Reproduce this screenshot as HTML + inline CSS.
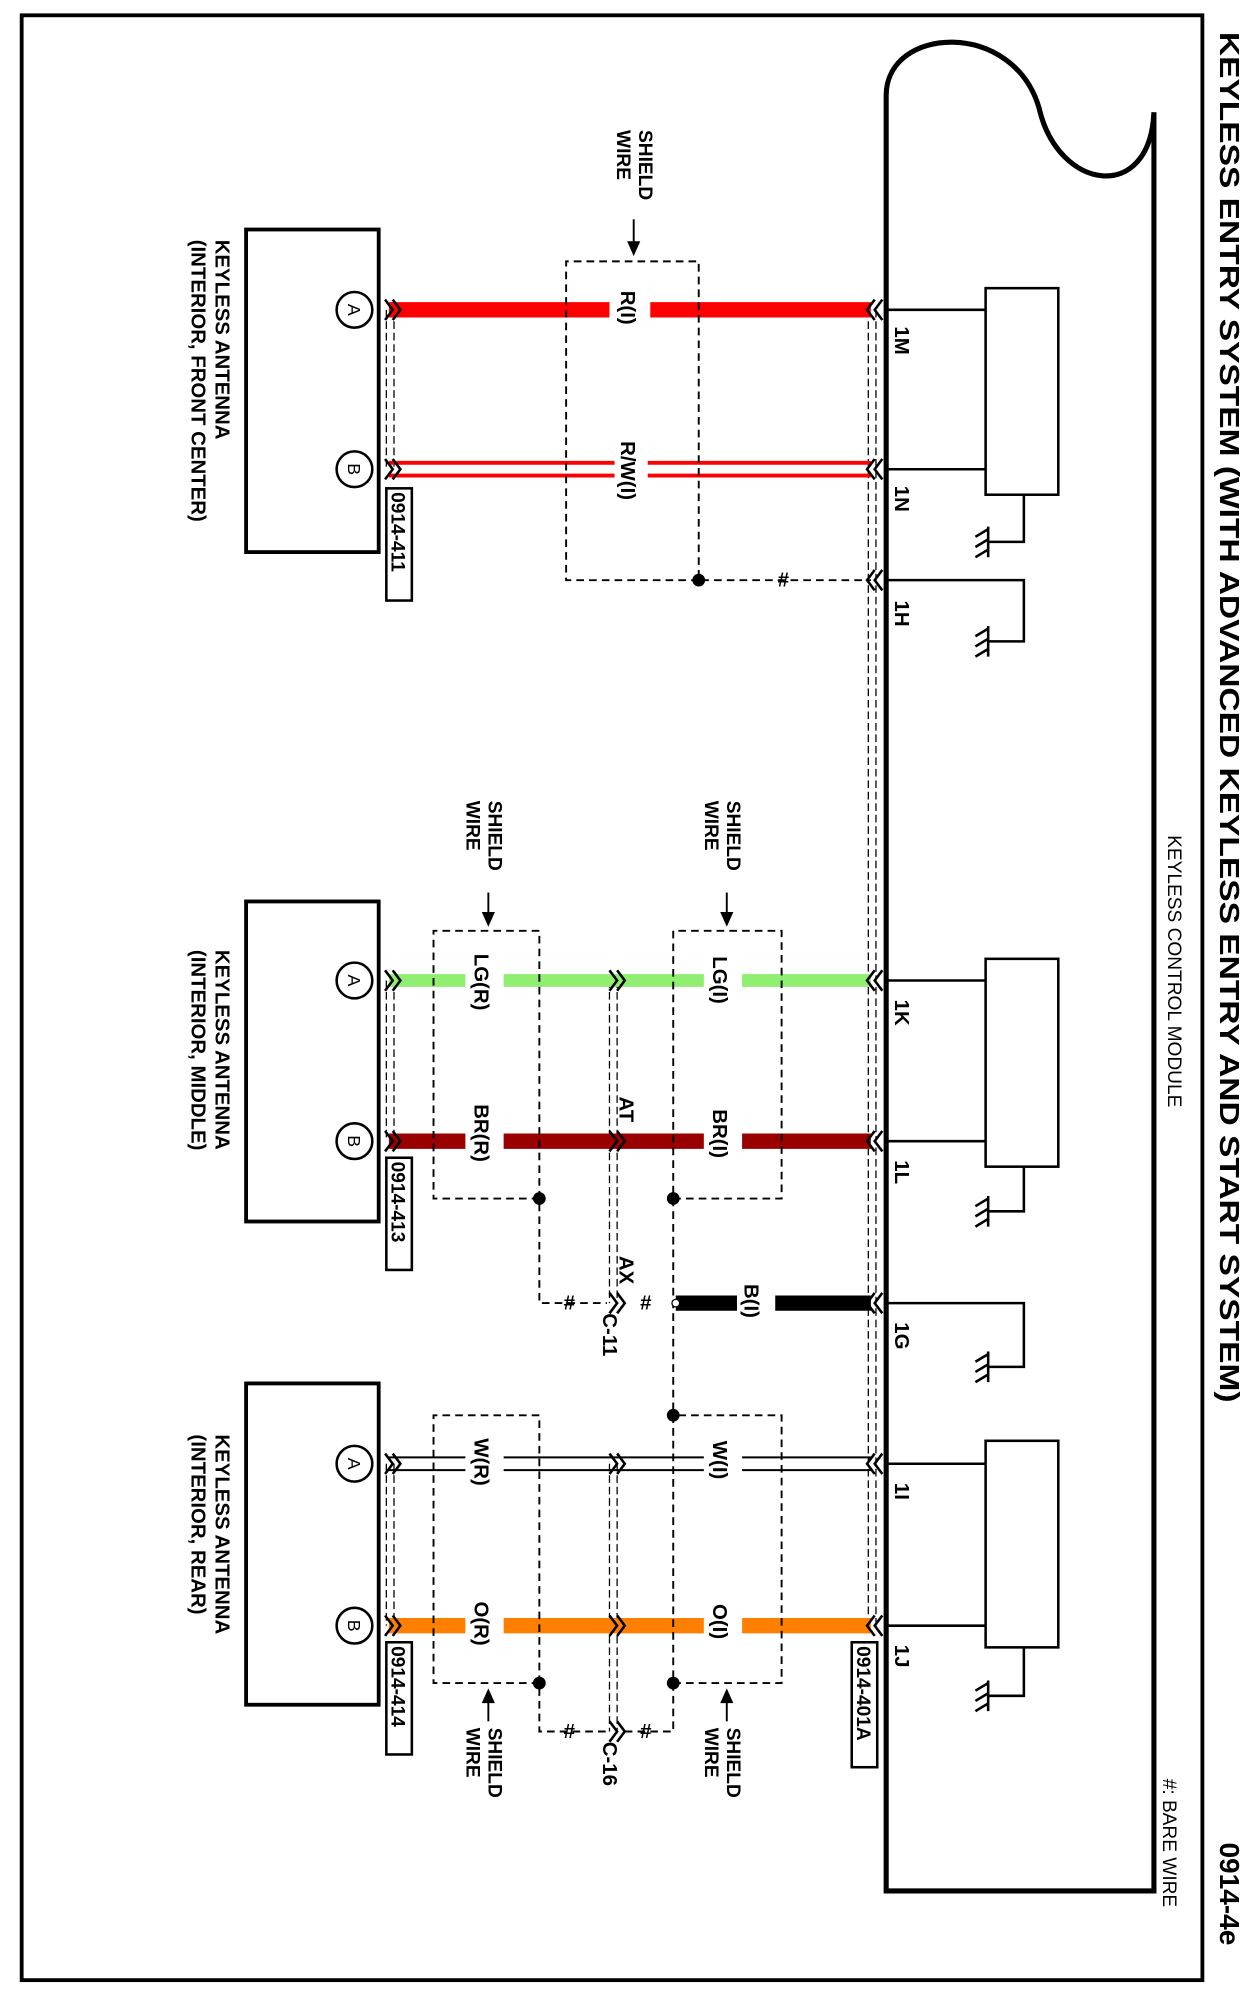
<!DOCTYPE html>
<html><head><meta charset="utf-8"><style>
html,body{margin:0;padding:0;background:#fff}
svg{display:block}
text{font-family:"Liberation Sans",Arial,sans-serif;fill:#000}
.b{font-weight:bold}
</style></head><body>
<svg width="1253" height="1998" viewBox="0 0 982.7 1567" preserveAspectRatio="none" xmlns="http://www.w3.org/2000/svg">
<rect x="17" y="12" width="926" height="1541" fill="none" stroke="#000" stroke-width="3"/>
<text transform="translate(957,25) rotate(90)" font-size="22" font-weight="600" textLength="1075" lengthAdjust="spacingAndGlyphs">KEYLESS ENTRY SYSTEM (WITH ADVANCED KEYLESS ENTRY AND START SYSTEM)</text>
<text transform="translate(957,1445) rotate(90)" font-size="22" class="b">0914-4e</text>
<text transform="translate(912,1395) rotate(90)" font-size="15">#: BARE WIRE</text>
<text transform="translate(916,655) rotate(90)" font-size="15">KEYLESS CONTROL MODULE</text>

<path d="M695,1483 V75 C695,20 795,15 815,85 C830,150 902,160 905,88 V1483 Z" fill="none" stroke="#000" stroke-width="4"/>
<g fill="none" stroke="#000" stroke-width="2">
<rect x="773" y="226" width="57" height="162"/>
<rect x="773" y="752" width="57" height="163"/>
<rect x="773" y="1130" width="57" height="162"/>
<path d="M695,243H773 M695,368H773 M803,388V425H775 M695,455H803V503H775"/>
<path d="M695,769H773 M695,895H773 M803,915V950H775 M695,1022H803V1072H775"/>
<path d="M695,1148H773 M695,1275H773 M803,1292V1330H775"/>
</g>
<g fill="none" stroke="#000" stroke-width="2">
<path d="M775,413V437 M775,415L765,421 M775,423L765,429 M775,431L765,437"/>
<path d="M775,491V515 M775,493L765,499 M775,501L765,507 M775,509L765,515"/>
<path d="M775,938V962 M775,940L765,946 M775,948L765,954 M775,956L765,962"/>
<path d="M775,1060V1084 M775,1062L765,1068 M775,1070L765,1076 M775,1078L765,1084"/>
<path d="M775,1318V1342 M775,1320L765,1326 M775,1328L765,1334 M775,1336L765,1342"/>
</g>
<g font-size="16" class="b">
<text transform="translate(702,256) rotate(90)">1M</text>
<text transform="translate(702,381) rotate(90)">1N</text>
<text transform="translate(702,471) rotate(90)">1H</text>
<text transform="translate(702,784) rotate(90)">1K</text>
<text transform="translate(702,910) rotate(90)">1L</text>
<text transform="translate(702,1037) rotate(90)">1G</text>
<text transform="translate(702,1163) rotate(90)">1I</text>
<text transform="translate(702,1290) rotate(90)">1J</text>
</g>

<g stroke="#000" stroke-width="1" stroke-dasharray="6,3" fill="none">
<path d="M681,243V1275 M687,243V1275"/>
<path d="M303,243V368 M309,243V368"/>
<path d="M303,769V895 M309,769V895"/>
<path d="M303,1148V1275 M309,1148V1275"/>
<path d="M478,769V1022 M484,769V1022"/>
<path d="M478,1148V1358 M484,1148V1358"/>
</g>

<g fill="none">
<path d="M305,243H478 M510,243H683" stroke="#f00" stroke-width="12"/>
<path d="M305,363H482 M508,363H683 M305,373H482 M508,373H683" stroke="#f00" stroke-width="3"/>
<path d="M305,769H365 M395,769H552 M582,769H683" stroke="#90ee70" stroke-width="10"/>
<path d="M305,895H365 M395,895H552 M582,895H683" stroke="#990000" stroke-width="12"/>
<path d="M530,1022H578 M608,1022H683" stroke="#000" stroke-width="12"/>
<path d="M305,1143H365 M395,1143H552 M582,1143H683 M305,1153H365 M395,1153H552 M582,1153H683" stroke="#000" stroke-width="1.5"/>
<path d="M305,1275H365 M395,1275H552 M582,1275H683" stroke="#ff8000" stroke-width="12"/>
</g>
<g font-size="16" font-weight="600">
<text transform="translate(487,228) rotate(90)">R(I)</text>
<text transform="translate(487,346) rotate(90)">R/W(I)</text>
<text transform="translate(559,750) rotate(90)">LG(I)</text>
<text transform="translate(372,748) rotate(90)">LG(R)</text>
<text transform="translate(559,870) rotate(90)">BR(I)</text>
<text transform="translate(372,866) rotate(90)">BR(R)</text>
<text transform="translate(486,860) rotate(90)">AT</text>
<text transform="translate(486,985) rotate(90)">AX</text>
<text transform="translate(584,1007) rotate(90)">B(I)</text>
<text transform="translate(559,1130) rotate(90)">W(I)</text>
<text transform="translate(372,1128) rotate(90)">W(R)</text>
<text transform="translate(559,1258) rotate(90)">O(I)</text>
<text transform="translate(372,1256) rotate(90)">O(R)</text>
<text transform="translate(473,1030) rotate(90)">C-11</text>
<text transform="translate(473,1366) rotate(90)">C-16</text>
<text x="610" y="460">#</text>
<text x="502" y="1027">#</text>
<text x="442" y="1027">#</text>
<text x="502" y="1363">#</text>
<text x="442" y="1363">#</text>
</g>

<g fill="none" stroke="#000" stroke-width="2">
<path id="cl" d="M686,235L680,243L686,251 M692,235L686,243L692,251"/>
<use href="#cl" y="125"/><use href="#cl" y="212"/><use href="#cl" y="526"/><use href="#cl" y="652"/><use href="#cl" y="779"/><use href="#cl" y="905"/><use href="#cl" y="1032"/>
<path id="cr" d="M302,235L308,243L302,251 M308,235L314,243L308,251"/>
<use href="#cr" y="125"/><use href="#cr" y="526"/><use href="#cr" y="652"/><use href="#cr" y="905"/><use href="#cr" y="1032"/>
<use href="#cr" x="176" y="526"/><use href="#cr" x="176" y="652"/><use href="#cr" x="176" y="779"/>
<use href="#cr" x="176" y="905"/><use href="#cr" x="176" y="1032"/><use href="#cr" x="176" y="1115"/>
</g>

<g fill="none" stroke="#000" stroke-width="1.5" stroke-dasharray="6,4">
<path d="M548,455H444V205H548V455H683"/>
<path d="M528,940H613V730H528V1320H613V1110H528"/>
<path d="M423,940H340V730H423V1022H476"/>
<path d="M423,1320H340V1110H423V1358H476"/>
<path d="M528,1320V1358H490"/>
</g>
<g fill="#000">
<circle cx="548" cy="455" r="5"/><circle cx="528" cy="940" r="5"/><circle cx="423" cy="940" r="5"/>
<circle cx="528" cy="1110" r="5"/><circle cx="528" cy="1320" r="5"/><circle cx="423" cy="1320" r="5"/>
</g>
<circle cx="530" cy="1022" r="3" fill="#fff" stroke="#000"/>
<g font-size="15" font-weight="600">
<text transform="translate(501,102) rotate(90)">SHIELD</text>
<text transform="translate(484,102) rotate(90)">WIRE</text>
<text transform="translate(570,628) rotate(90)">SHIELD</text>
<text transform="translate(553,628) rotate(90)">WIRE</text>
<text transform="translate(383,628) rotate(90)">SHIELD</text>
<text transform="translate(366,628) rotate(90)">WIRE</text>
<text transform="translate(570,1355) rotate(90)">SHIELD</text>
<text transform="translate(553,1355) rotate(90)">WIRE</text>
<text transform="translate(383,1355) rotate(90)">SHIELD</text>
<text transform="translate(366,1355) rotate(90)">WIRE</text>
</g>
<g stroke="#000" stroke-width="1.5" fill="#000">
<path d="M497,172V192"/><path d="M493,190L497,199L501,190Z"/>
<path d="M570,700V718"/><path d="M566,716L570,725L574,716Z"/>
<path d="M383,700V718"/><path d="M379,716L383,725L387,716Z"/>
<path d="M570,1332V1350"/><path d="M566,1335L570,1326L574,1335Z"/>
<path d="M383,1332V1350"/><path d="M379,1335L383,1326L387,1335Z"/>
</g>

<g fill="none" stroke="#000" stroke-width="3">
<rect x="193" y="180" width="104" height="253"/>
<rect x="193" y="707" width="104" height="251"/>
<rect x="193" y="1085" width="104" height="252"/>
</g>
<g fill="#fff" stroke="#000" stroke-width="2">
<circle cx="278" cy="243" r="14"/><circle cx="278" cy="368" r="14"/>
<circle cx="278" cy="769" r="14"/><circle cx="278" cy="895" r="14"/>
<circle cx="278" cy="1148" r="14"/><circle cx="278" cy="1275" r="14"/>
</g>
<g font-size="14" text-anchor="middle">
<text transform="translate(273,243) rotate(90)">A</text><text transform="translate(273,368) rotate(90)">B</text>
<text transform="translate(273,769) rotate(90)">A</text><text transform="translate(273,895) rotate(90)">B</text>
<text transform="translate(273,1148) rotate(90)">A</text><text transform="translate(273,1275) rotate(90)">B</text>
</g>
<g font-size="16" font-weight="600">
<text transform="translate(169,188) rotate(90)">KEYLESS ANTENNA</text>
<text transform="translate(150,188) rotate(90)">(INTERIOR, FRONT CENTER)</text>
<text transform="translate(169,745) rotate(90)">KEYLESS ANTENNA</text>
<text transform="translate(150,745) rotate(90)">(INTERIOR, MIDDLE)</text>
<text transform="translate(169,1125) rotate(90)">KEYLESS ANTENNA</text>
<text transform="translate(150,1125) rotate(90)">(INTERIOR, REAR)</text>
</g>
<g fill="#fff" stroke="#000" stroke-width="2">
<rect x="303" y="383" width="20" height="88"/>
<rect x="303" y="908" width="20" height="88"/>
<rect x="303" y="1288" width="20" height="88"/>
<rect x="668" y="1288" width="20" height="98"/>
</g>
<g font-size="15" class="b">
<text transform="translate(307,386) rotate(90)">0914-411</text>
<text transform="translate(307,911) rotate(90)">0914-413</text>
<text transform="translate(307,1291) rotate(90)">0914-414</text>
<text transform="translate(672,1291) rotate(90)">0914-401A</text>
</g>
</svg>
</body></html>
